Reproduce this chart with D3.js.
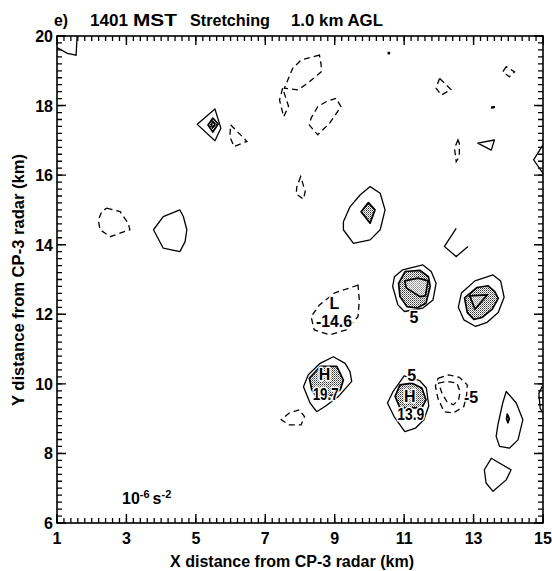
<!DOCTYPE html>
<html>
<head>
<meta charset="utf-8">
<script src="https://cdn.jsdelivr.net/npm/d3@7"></script>
<style>
  body { margin: 0; background: #fff; }
  svg text { font-family: 'Liberation Sans', Arial, Helvetica, sans-serif; font-weight: bold; fill: #000; }
</style>
</head>
<body>
<svg id="chart" width="552" height="571"></svg>
<script>
// axis ticks (km)
const xTicks = [1, 3, 5, 7, 9, 11, 13, 15];
const yTicks = [6, 8, 10, 12, 14, 16, 18, 20];

// closed contours of stretching (10^-6 s^-2), vertices in km [x, y]
const posContours = [
  {level: 5,  pts: [[5.04,17.46],[5.55,17.90],[5.72,17.35],[5.55,16.99]]},
  {level: 10, pts: [[5.35,17.44],[5.49,17.64],[5.64,17.47],[5.49,17.24]]},
  {level: 15, pts: [[5.44,17.45],[5.49,17.54],[5.55,17.46],[5.49,17.37]]},
  {level: 5,  pts: [[4.54,15.00],[4.06,14.81],[3.78,14.43],[4.06,13.90],[4.54,13.80],[4.69,14.09],[4.74,14.43],[4.64,14.81]]},
  {level: 5,  pts: [[10.02,15.67],[10.31,15.48],[10.45,15.00],[10.31,14.43],[10.02,14.14],[9.54,14.04],[9.25,14.43],[9.25,14.66],[9.44,15.09],[9.73,15.43]]},
  {level: 10, pts: [[9.97,15.21],[10.16,15.00],[10.02,14.62],[9.76,14.95]]},
  {level: 5,  pts: [[10.96,13.28],[11.54,13.42],[11.78,13.23],[11.92,12.89],[11.83,12.41],[11.54,12.18],[11.01,12.08],[10.82,12.27],[10.67,12.80],[10.72,13.08]]},
  {level: 10, pts: [[11.03,13.23],[11.46,13.26],[11.70,13.08],[11.75,12.80],[11.63,12.32],[11.37,12.18],[11.08,12.22],[10.88,12.51],[10.84,12.89]]},
  {level: 15, pts: [[11.02,12.96],[11.40,13.04],[11.69,12.96],[11.61,12.53],[11.45,12.51],[11.06,12.76]]},
  {level: 5,  pts: [[13.04,12.96],[13.56,13.13],[13.78,12.96],[13.88,12.49],[13.71,12.05],[13.39,11.77],[13.06,11.65],[12.72,11.84],[12.56,12.20],[12.65,12.61]]},
  {level: 10, pts: [[12.74,12.47],[13.10,12.77],[13.42,12.82],[13.61,12.65],[13.71,12.46],[13.54,12.15],[13.25,11.91],[13.01,11.85],[12.82,12.05]]},
  {level: 15, pts: [[12.89,12.53],[13.40,12.56],[13.04,12.15]]},
  {level: 5,  pts: [[8.96,10.78],[9.30,10.59],[9.44,10.35],[9.49,10.07],[9.11,9.64],[8.72,9.35],[8.48,9.20],[8.29,9.45],[8.10,9.92],[8.24,10.26],[8.58,10.59]]},
  {level: 10, pts: [[8.27,10.16],[8.58,10.50],[9.06,10.50],[9.25,10.11],[9.16,9.83],[8.87,9.64],[8.53,9.54],[8.34,9.83]]},
  {level: 5,  pts: [[11.00,10.23],[10.68,9.78],[10.52,9.45],[10.71,9.06],[11.02,8.63],[11.33,8.73],[11.57,8.97],[11.71,9.37],[11.64,9.88],[11.45,10.09]]},
  {level: 10, pts: [[10.88,9.97],[11.23,10.02],[11.51,9.88],[11.63,9.54],[11.51,9.31],[10.88,9.31],[10.74,9.64]]},
  {level: 5,  pts: [[13.94,9.78],[14.23,9.45],[14.42,8.97],[14.28,8.39],[14.03,8.15],[13.75,8.20],[13.65,8.49],[13.70,8.82],[13.84,9.45]]},
  {level: 10, pts: [[13.97,9.13],[14.03,9.00],[13.99,8.88],[13.95,9.00]]},
  {level: 5,  pts: [[13.51,7.86],[14.08,7.53],[13.94,7.24],[13.56,6.91],[13.36,7.15],[13.31,7.53]]},
  {level: 5,  pts: [[13.12,16.92],[13.60,17.01],[13.51,16.72]]},
  {level: 5,  pts: [[10.54,19.53],[10.58,19.53],[10.58,19.49],[10.54,19.49]]},
  {level: 5,  pts: [[13.52,17.96],[13.60,17.97],[13.60,17.94],[13.52,17.93]]}
];

const negContours = [
  {level: -5,  pts: [[8.56,19.45],[8.03,19.31],[7.79,19.07],[7.55,18.50],[7.94,18.45],[8.22,18.64],[8.61,18.97],[8.61,19.17]]},
  {level: -5,  pts: [[7.50,18.50],[7.41,18.16],[7.53,17.68],[7.67,17.98]]},
  {level: -5,  pts: [[9.04,18.21],[8.75,18.11],[8.51,17.97],[8.32,17.64],[8.27,17.44],[8.51,17.16],[8.85,17.49],[9.18,17.97]]},
  {level: -5,  pts: [[6.00,17.45],[6.47,16.97],[6.10,16.82],[5.98,17.10]]},
  {level: -5,  pts: [[12.02,18.78],[11.92,18.50],[12.07,18.30],[12.35,18.46]]},
  {level: -5,  pts: [[13.94,19.12],[13.84,18.97],[14.03,18.83],[14.18,18.97]]},
  {level: -5,  pts: [[12.55,17.01],[12.45,16.77],[12.50,16.39],[12.59,16.53],[12.59,16.92]]},
  {level: -5,  pts: [[8.02,15.96],[7.91,15.67],[7.89,15.46],[8.10,15.31],[8.15,15.53]]},
  {level: -5,  pts: [[2.43,15.05],[2.82,14.95],[3.05,14.62],[3.10,14.43],[2.53,14.23],[2.24,14.43],[2.19,14.71],[2.29,14.95]]},
  {level: -5,  pts: [[9.67,12.84],[8.99,12.61],[8.56,12.27],[8.32,11.93],[8.41,11.55],[8.85,11.41],[9.33,11.55],[9.67,11.93],[9.71,12.41]]},
  {level: -5,  pts: [[7.98,9.25],[7.69,9.16],[7.46,8.97],[7.69,8.82],[8.03,8.82],[8.13,9.06]]},
  {level: -5,  pts: [[11.98,10.16],[12.27,10.26],[12.59,10.19],[12.82,9.97],[12.80,9.68],[12.72,9.35],[12.41,9.16],[12.15,9.20],[11.97,9.59],[11.90,9.94]]},
  {level: -10, pts: [[11.99,10.02],[12.23,10.07],[12.52,10.02],[12.61,9.78],[12.57,9.54],[12.42,9.40],[12.23,9.49],[12.09,9.73]]}
];

// contours cut by the domain edge (open lines)
const openContours = [
  {level: 5, pts: [[1.00,19.67],[1.30,19.50],[1.55,19.45],[1.58,20.00]]},
  {level: 5, pts: [[15.00,16.87],[14.73,16.44],[15.00,16.05]]},
  {level: 5, pts: [[12.50,14.47],[12.16,13.95],[12.50,13.66],[12.84,13.95]]},
  {level: 5, pts: [[15.00,9.97],[14.88,9.72],[14.92,9.30],[15.00,9.15]]}
];

// extrema markers and contour labels
const extremaLabels = [
  {text: 'L',     x: 8.99,  y: 12.16},
  {text: '-14.6', x: 8.98,  y: 11.63, len: 36},
  {text: 'H',     x: 8.71,  y: 10.10},
  {text: '19.7',  x: 8.74,  y: 9.55,  len: 26},
  {text: 'H',     x: 11.16, y: 9.48},
  {text: '13.9',  x: 11.19, y: 8.95,  len: 27}
];
const contourLabels = [
  {text: '5',  x: 11.28, y: 11.76},
  {text: '5',  x: 11.22, y: 10.09},
  {text: '-5', x: 12.93, y: 9.46}
];

const svg = d3.select('#chart');
const x = d3.scaleLinear().domain([1, 15]).range([57, 543]);
const y = d3.scaleLinear().domain([6, 20]).range([523, 36]);

const defs = svg.append('defs');
defs.append('clipPath').attr('id', 'plotclip')
  .append('rect')
  .attr('x', x(1)).attr('y', y(20))
  .attr('width', x(15) - x(1)).attr('height', y(6) - y(20));

function stipple(id, dark) {
  let p = defs.append('pattern').attr('id', id)
    .attr('width', 2).attr('height', 2)
    .attr('patternUnits', 'userSpaceOnUse');
  p.append('rect').attr('width', 2).attr('height', 2).attr('fill', '#fff');
  p.append('rect').attr('width', 1).attr('height', 1).attr('fill', dark);
  p.append('rect').attr('x', 1).attr('y', 1).attr('width', 1).attr('height', 1).attr('fill', '#888');
}
stipple('stip', '#333');
stipple('stipLight', '#aaa');

const closedLine = d3.line().x(d => x(d[0])).y(d => y(d[1])).curve(d3.curveLinearClosed);
const openLine = d3.line().x(d => x(d[0])).y(d => y(d[1]));

const plot = svg.append('g').attr('clip-path', 'url(#plotclip)');

// shading inside the 10 and 15 contours
plot.selectAll('path.shade')
  .data(posContours.filter(d => d.level >= 10))
  .enter().append('path')
  .attr('class', 'shade')
  .attr('d', d => closedLine(d.pts))
  .attr('fill', d => d.level >= 15 ? 'url(#stipLight)' : 'url(#stip)')
  .attr('stroke', 'none');

plot.selectAll('path.pos')
  .data(posContours)
  .enter().append('path')
  .attr('class', 'pos')
  .attr('d', d => closedLine(d.pts))
  .attr('fill', 'none')
  .attr('stroke', '#000')
  .attr('stroke-width', d => d.level >= 10 ? 1.7 : 1.3)
  .attr('stroke-linejoin', 'round');

plot.selectAll('path.neg')
  .data(negContours)
  .enter().append('path')
  .attr('class', 'neg')
  .attr('d', d => closedLine(d.pts))
  .attr('fill', 'none')
  .attr('stroke', '#000')
  .attr('stroke-width', 1.3)
  .attr('stroke-dasharray', '6,4');

plot.selectAll('path.open')
  .data(openContours)
  .enter().append('path')
  .attr('class', 'open')
  .attr('d', d => openLine(d.pts))
  .attr('fill', 'none')
  .attr('stroke', '#000')
  .attr('stroke-width', 1.3);

// labels with white halo so they knock out lines and shading
svg.selectAll('text.ext')
  .data(extremaLabels.concat(contourLabels))
  .enter().append('text')
  .attr('class', 'ext')
  .attr('x', d => x(d.x))
  .attr('y', d => y(d.y))
  .attr('text-anchor', 'middle')
  .style('font-size', '16px')
  .style('paint-order', 'stroke')
  .style('stroke', '#fff')
  .style('stroke-width', '3px')
  .style('stroke-linejoin', 'round')
  .each(function(d) {
    if (d.len) d3.select(this).attr('textLength', d.len).attr('lengthAdjust', 'spacingAndGlyphs');
  })
  .text(d => d.text);

// ticks pointing inward on all four sides (major every 2 km, minor every 0.2 km)
const minorX = d3.range(0, 71).map(i => 1 + i * 0.2);
const minorY = d3.range(0, 71).map(i => 6 + i * 0.2);

function tickPath(len, xs, ys) {
  let p = d3.path();
  xs.forEach(d => {
    p.moveTo(x(d), y(6)); p.lineTo(x(d), y(6) - len);
    p.moveTo(x(d), y(20)); p.lineTo(x(d), y(20) + len);
  });
  ys.forEach(d => {
    p.moveTo(x(1), y(d)); p.lineTo(x(1) + len, y(d));
    p.moveTo(x(15), y(d)); p.lineTo(x(15) - len, y(d));
  });
  return p.toString();
}

svg.append('path')
  .attr('d', tickPath(5, minorX, minorY))
  .attr('fill', 'none').attr('stroke', '#000').attr('stroke-width', 1.3);
svg.append('path')
  .attr('d', tickPath(9, xTicks, yTicks))
  .attr('fill', 'none').attr('stroke', '#000').attr('stroke-width', 1.4);

svg.append('g').selectAll('text')
  .data(xTicks).enter().append('text')
  .attr('x', d => x(d)).attr('y', y(6) + 21)
  .attr('text-anchor', 'middle')
  .style('font-size', '16px')
  .text(d => d);

svg.append('g').selectAll('text')
  .data(yTicks).enter().append('text')
  .attr('x', x(1) - 4).attr('y', d => y(d) + 6)
  .attr('text-anchor', 'end')
  .style('font-size', '16px')
  .text(d => d);

svg.append('rect')
  .attr('x', x(1)).attr('y', y(20))
  .attr('width', x(15) - x(1)).attr('height', y(6) - y(20))
  .attr('fill', 'none').attr('stroke', '#000').attr('stroke-width', 1.6);

// title
const titleParts = [
  {text: 'e)', x: 54, len: 14},
  {text: '1401', x: 90, len: 38},
  {text: 'MST', x: 133, len: 44},
  {text: 'Stretching', x: 190, len: 80},
  {text: '1.0 km AGL', x: 291, len: 92}
];
svg.selectAll('text.title')
  .data(titleParts)
  .enter().append('text')
  .attr('class', 'title')
  .attr('x', d => d.x).attr('y', 26)
  .attr('textLength', d => d.len).attr('lengthAdjust', 'spacingAndGlyphs')
  .style('font-size', '17px')
  .text(d => d.text);

// axis titles
svg.append('text')
  .attr('x', 292).attr('y', 567)
  .attr('text-anchor', 'middle')
  .attr('textLength', 244).attr('lengthAdjust', 'spacingAndGlyphs')
  .style('font-size', '16px')
  .text('X distance from CP-3 radar (km)');

svg.append('text')
  .attr('transform', 'translate(24,280) rotate(-90)')
  .attr('text-anchor', 'middle')
  .attr('textLength', 252).attr('lengthAdjust', 'spacingAndGlyphs')
  .style('font-size', '16px')
  .text('Y distance from CP-3 radar (km)');

// units
const units = svg.append('text').attr('x', 122).attr('y', 504).style('font-size', '16px');
units.append('tspan').text('10');
units.append('tspan').attr('dy', -6).style('font-size', '11px').text('-6');
units.append('tspan').attr('dy', 6).attr('dx', 3).text('s');
units.append('tspan').attr('dy', -6).style('font-size', '11px').text('-2');
</script>
</body>
</html>
